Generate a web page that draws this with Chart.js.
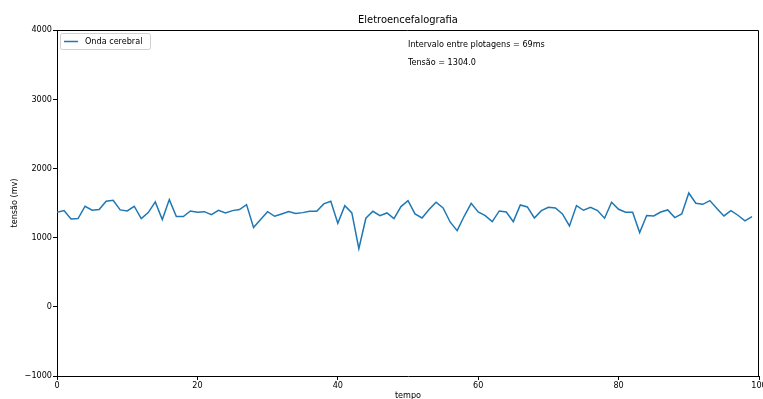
<!DOCTYPE html>
<html>
<head>
<meta charset="utf-8">
<script src="https://cdn.jsdelivr.net/npm/chart.js@4/dist/chart.umd.min.js"></script>
<style>
  html, body { margin: 0; padding: 0; background: #fff; }
  #wrap { width: 763px; height: 399px; }
</style>
</head>
<body>
<div id="wrap"><canvas id="eeg"></canvas></div>
<script>
// leituras da onda cerebral (mV), uma por amostra
const tensao = [
  1366, 1390, 1270, 1275, 1453, 1395, 1405, 1525, 1540, 1400,
  1385, 1453, 1275, 1361, 1515, 1260, 1549, 1306, 1305, 1385,
  1366, 1375, 1332, 1395, 1356, 1390, 1405, 1477, 1145, 1260,
  1375, 1308, 1342, 1375, 1347, 1361, 1380, 1380, 1487, 1525,
  1207, 1462, 1356, 841, 1280, 1380, 1318, 1356, 1275, 1448,
  1535, 1342, 1284, 1405, 1511, 1429, 1226, 1101, 1308, 1496,
  1370, 1318, 1231, 1385, 1370, 1231, 1472, 1443, 1284, 1390,
  1438, 1429, 1342, 1169, 1462, 1395, 1438, 1390, 1280, 1511,
  1409, 1366, 1366, 1072, 1320, 1313, 1370, 1400, 1289, 1342,
  1645, 1496, 1481, 1535, 1419, 1313, 1390, 1323, 1241, 1304
];
const tempo = tensao.map((_, i) => i);
const xTicks = [0, 20, 40, 60, 80, 100];
const yTicks = [-1000, 0, 1000, 2000, 3000, 4000];

const intervaloMs = 69;
const ultimaTensao = tensao[tensao.length - 1];

const FONT = "'DejaVu Sans Condensed', 'Liberation Sans Narrow', 'DejaVu Sans', sans-serif";

// moldura (topo e direita), legenda, título e anotações no estilo matplotlib
const mplDecor = {
  id: 'mplDecor',
  afterDraw(chart) {
    const {ctx, chartArea: a, scales} = chart;
    ctx.save();
    ctx.strokeStyle = '#000';
    ctx.lineWidth = 1;
    ctx.beginPath();
    ctx.moveTo(a.left, a.top + 0.5);
    ctx.lineTo(a.right - 0.5, a.top + 0.5);
    ctx.lineTo(a.right - 0.5, a.bottom);
    ctx.stroke();

    // título
    ctx.fillStyle = '#000';
    ctx.font = '11px ' + FONT;
    ctx.textAlign = 'center';
    ctx.textBaseline = 'middle';
    ctx.fillText('Eletroencefalografia', (a.left + a.right) / 2, a.top - 10);

    // legenda
    const lx = a.left + 3, ly = a.top + 3, lw = 90, lh = 16;
    ctx.fillStyle = 'rgba(255,255,255,0.8)';
    ctx.strokeStyle = '#d0d0d0';
    ctx.beginPath();
    ctx.roundRect(lx + 0.5, ly + 0.5, lw, lh, 2);
    ctx.fill();
    ctx.stroke();
    ctx.strokeStyle = '#1f77b4';
    ctx.lineWidth = 1.5;
    ctx.beginPath();
    ctx.moveTo(lx + 4, ly + 8.5);
    ctx.lineTo(lx + 18, ly + 8.5);
    ctx.stroke();
    ctx.fillStyle = '#000';
    ctx.font = '9px ' + FONT;
    ctx.textAlign = 'left';
    ctx.fillText('Onda cerebral', lx + 25, ly + 8.5);

    // anotações
    const tx = scales.x.getPixelForValue(50);
    ctx.fillText('Intervalo entre plotagens = ' + intervaloMs + 'ms', tx, scales.y.getPixelForValue(3785));
    ctx.fillText('Tensão = ' + ultimaTensao.toFixed(1), tx, scales.y.getPixelForValue(3525));
    ctx.restore();
  }
};

const tickFont = { family: FONT, size: 9 };

new Chart(document.getElementById('eeg'), {
  type: 'line',
  data: {
    datasets: [{
      label: 'Onda cerebral',
      data: tempo.map((t, i) => ({ x: t, y: tensao[i] })),
      borderColor: '#1f77b4',
      borderWidth: 1.5,
      pointRadius: 0,
      tension: 0,
      fill: false
    }]
  },
  options: {
    responsive: true,
    maintainAspectRatio: false,
    animation: false,
    layout: { padding: { top: 30, right: 4, left: 0, bottom: 0 } },
    plugins: {
      legend: { display: false },
      title: { display: false },
      tooltip: { enabled: false }
    },
    scales: {
      x: {
        type: 'linear',
        min: 0,
        max: 100,
        afterBuildTicks: s => { s.ticks = xTicks.map(v => ({ value: v })); },
        afterFit: s => { s.height = 23; s.paddingLeft = 0; s.paddingRight = 0; },
        ticks: { color: '#000', font: tickFont, padding: 0, maxRotation: 0, autoSkip: false },
        grid: { display: true, drawOnChartArea: false, drawTicks: true, tickLength: 4, color: '#000' },
        border: { display: true, color: '#000' },
        title: { display: true, text: 'tempo', color: '#000', font: tickFont, padding: { top: 0, bottom: -2 } }
      },
      y: {
        min: -1000,
        max: 4000,
        afterBuildTicks: s => { s.ticks = yTicks.map(v => ({ value: v })); },
        afterFit: s => { s.width = 57; s.paddingTop = 0; s.paddingBottom = 0; },
        ticks: { color: '#000', font: tickFont, padding: 1, callback: v => (v < 0 ? '\u2212' + Math.abs(v) : String(v)) },
        grid: { display: true, drawOnChartArea: false, drawTicks: true, tickLength: 4, color: '#000' },
        border: { display: true, color: '#000' },
        title: { display: true, text: 'tensão (mv)', color: '#000', font: tickFont, padding: { top: 9, bottom: 0 } }
      }
    }
  },
  plugins: [mplDecor]
});
</script>
</body>
</html>
